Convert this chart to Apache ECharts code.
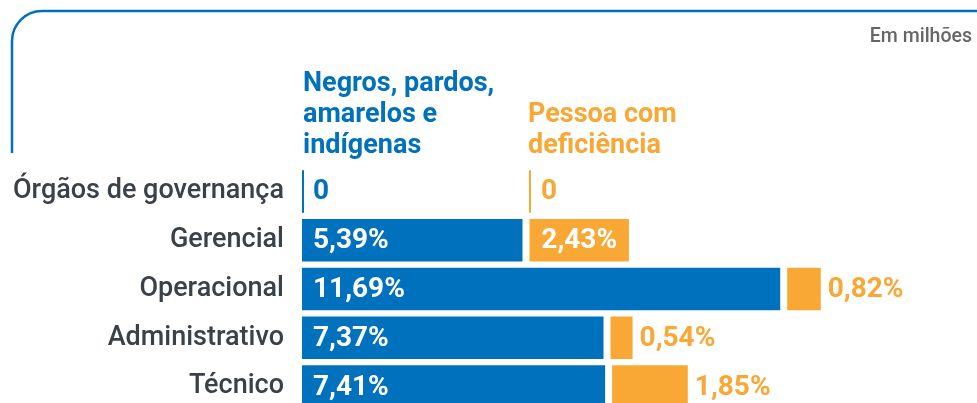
<!DOCTYPE html>
<html>
<head>
<meta charset="utf-8">
<script src="https://cdn.jsdelivr.net/npm/echarts@6/dist/echarts.min.js"></script>
<style>
  html, body { margin: 0; padding: 0; background: #fff; }
  #chart { width: 977px; height: 403px; }
</style>
</head>
<body>
<div id="chart"></div>
<script>
// data
const categories = ['Órgãos de governança', 'Gerencial', 'Operacional', 'Administrativo', 'Técnico']
const negrosValues = [0, 5.39, 11.69, 7.37, 7.41]   // Negros, pardos, amarelos e indígenas
const pcdValues = [0, 2.43, 0.82, 0.54, 1.85]       // Pessoa com deficiência

const BLUE = '#0071bc'
const ORANGE = '#f9a836'
const FONT = 'Roboto'
const LABEL_SIZE = 28
const PCD_COLUMN = 227   // px from bar origin where the orange column starts
const GAP = 7

const measureCtx = document.createElement('canvas').getContext('2d')
function textWidth(t) {
  measureCtx.font = 'bold ' + LABEL_SIZE + 'px ' + FONT
  return measureCtx.measureText(t).width
}

function fmt(v) {
  return v === 0 ? '0' : v.toFixed(2).replace('.', ',') + '%'
}

function labelFor(v, x, w, yc, color, pad) {
  const text = fmt(v)
  const tw = textWidth(text)
  let lx, fill
  if (v === 0) {
    lx = x + pad; fill = color
  } else if (w >= tw + pad * 2) {
    lx = x + pad; fill = '#fff'
  } else if (w >= tw + 6) {
    lx = x + (w - tw) / 2; fill = '#fff'
  } else {
    lx = x + w + 7; fill = color
  }
  return {
    type: 'text',
    x: lx,
    y: yc + 1,
    style: { text, fill, fontSize: LABEL_SIZE, fontWeight: 'bold', fontFamily: FONT, align: 'left', verticalAlign: 'middle' },
  }
}

function renderItem(params, api) {
  const idx = api.value(0)
  const b = api.value(1)
  const o = api.value(2)
  const origin = api.coord([0, idx])
  const band = api.size([0, 1])[1]
  const h = band * 0.87
  const yc = origin[1]
  const y = yc - h / 2

  const bw = Math.max(api.coord([b, idx])[0] - origin[0], 2)
  const ox = Math.max(origin[0] + PCD_COLUMN, origin[0] + bw + GAP)
  const ow = Math.max(api.coord([o, idx])[0] - origin[0], 2)

  return {
    type: 'group',
    children: [
      { type: 'rect', shape: { x: origin[0], y, width: bw, height: h }, style: { fill: BLUE } },
      { type: 'rect', shape: { x: ox, y, width: ow, height: h }, style: { fill: ORANGE } },
      labelFor(b, origin[0], bw, yc, BLUE, 11),
      labelFor(o, ox, ow, yc, ORANGE, 12),
    ],
  }
}

const chart = echarts.init(document.getElementById('chart'))
chart.setOption({
  animation: false,
  grid: { left: 302, width: 675, top: 167, height: 244, containLabel: false, outerBoundsMode: 'none' },
  xAxis: { type: 'value', min: 0, max: 16.5, show: false },
  yAxis: {
    type: 'category',
    inverse: true,
    data: categories,
    axisLine: { show: false },
    axisTick: { show: false },
    axisLabel: { fontSize: 27, fontWeight: 500, color: '#3a4149', fontFamily: FONT, margin: 18 },
  },
  graphic: [
    {
      type: 'polyline',
      shape: { points: [[12, 153], [12, 41]] },
      style: { stroke: BLUE, lineWidth: 2.5, fill: null },
    },
    {
      type: 'bezierCurve',
      shape: { x1: 12, y1: 41, cpx1: 12, cpy1: 24.4, cpx2: 25.4, cpy2: 11, x2: 42, y2: 11 },
      style: { stroke: BLUE, lineWidth: 2.5, fill: null },
    },
    {
      type: 'polyline',
      shape: { points: [[42, 11], [990, 11]] },
      style: { stroke: BLUE, lineWidth: 2.5, fill: null },
    },
    {
      type: 'text', right: 5, top: 27,
      style: { text: 'Em milhões', fill: '#666', fontSize: 19.5, fontWeight: 500, fontFamily: FONT },
    },
    {
      type: 'text', left: 303, top: 69,
      style: { text: 'Negros, pardos,\namarelos e\nindígenas', fill: BLUE, fontSize: 27, fontWeight: 'bold', fontFamily: FONT, lineHeight: 31 },
    },
    {
      type: 'text', left: 528, top: 100,
      style: { text: 'Pessoa com\ndeficiência', fill: ORANGE, fontSize: 27, fontWeight: 'bold', fontFamily: FONT, lineHeight: 31 },
    },
  ],
  series: [{
    type: 'custom',
    renderItem,
    encode: { y: 0, x: [1, 2] },
    data: categories.map((c, i) => [i, negrosValues[i], pcdValues[i]]),
  }],
})
</script>
</body>
</html>
